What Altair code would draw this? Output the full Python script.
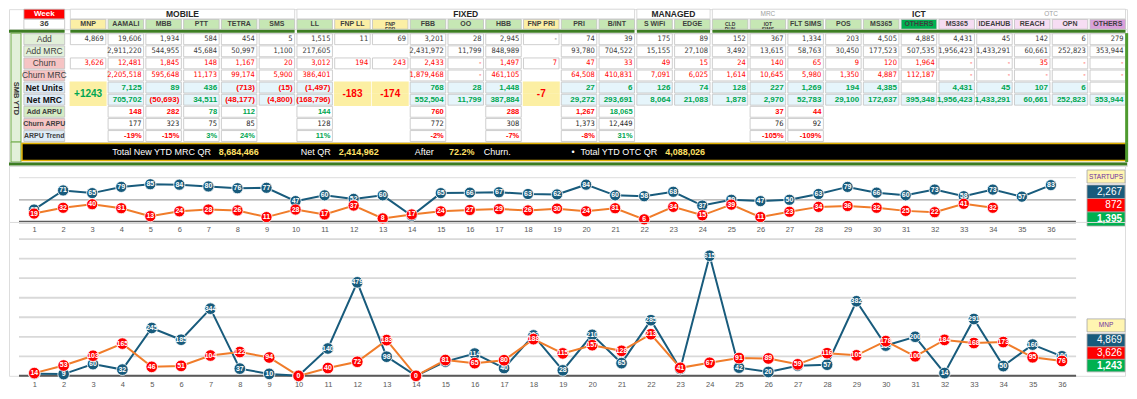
import altair as alt
import pandas as pd

# ------------------------------------------------------------------ data
columns = ["MNP", "AAMALI", "MBB", "PTT", "TETRA", "SMS", "LL", "FNP LL", "FNP\nFBB", "FBB", "OO", "HBB",
           "FNP PRI", "PRI", "B/INT", "S WiFi", "EDGE", "CLD\nPHN", "IOT\nSIMS", "FLT SIMS", "POS", "MS365",
           "OTHERS", "MS365", "IDEAHUB", "REACH", "OPN", "OTHERS"]
header_kind = ["fnp", "std", "std", "std", "std", "std", "std", "fnp", "fnp", "std", "std", "std",
               "fnp", "std", "std", "std", "std", "std", "std", "std", "std", "std",
               "ict_other", "otc", "otc", "otc", "otc", "otc_other"]
group_names = ["MOBILE", "FIXED", "MANAGED", "ICT"]
group_first = [0, 6, 15, 17]
group_last = [5, 14, 16, 27]
sub_names = ["MRC", "OTC"]
sub_first = [18, 25]
sub_last = [18, 26]
week_label = "Week"
week_no = "36"
side_label = "SMB YTD"

row_names = ["Add", "Add MRC", "Churn", "Churn MRC", "Net Units", "Net MRC", "Add ARPU", "Churn ARPU", "ARPU Trend"]

N = None
add = ["4,869", "19,606", "1,934", "584", "454", "5", "1,515", "11", "69", "3,201", "28", "2,945", "-", "74",
       "39", "175", "89", "152", "367", "1,334", "203", "4,505", "4,885", "4,431", "45", "142", "6", "279"]
add_mrc = [N, "2,911,220", "544,955", "45,684", "50,997", "1,100", "217,605", N, N, "2,431,972", "11,799",
           "848,989", N, "93,780", "704,522", "15,155", "27,108", "3,492", "13,615", "58,763", "30,450",
           "177,523", "507,535", "1,956,423", "1,433,291", "60,661", "252,823", "353,944"]
churn = ["3,626", "12,481", "1,845", "148", "1,167", "20", "3,012", "194", "243", "2,433", "-", "1,497", "7",
         "47", "33", "49", "15", "24", "140", "65", "9", "120", "1,964", "-", "-", "35", "-", "-"]
churn_mrc = [N, "2,205,518", "595,648", "11,173", "99,174", "5,900", "386,401", N, N, "1,879,468", "-",
             "461,105", N, "64,508", "410,831", "7,091", "6,025", "1,614", "10,645", "5,980", "1,350", "4,887",
             "112,187", "-", "-", "-", "-", "-"]
net_units = [N, "7,125", "89", "436", "(713)", "(15)", "(1,497)", N, N, "768", "28", "1,448", N, "27", "6",
             "126", "74", "128", "227", "1,269", "194", "4,385", "", "4,431", "45", "107", "6", ""]
net_mrc = [N, "705,702", "(50,693)", "34,511", "(48,177)", "(4,800)", "(168,796)", N, N, "552,504", "11,799",
           "387,884", N, "29,272", "293,691", "8,064", "21,083", "1,878", "2,970", "52,783", "29,100",
           "172,637", "395,348", "1,956,423", "1,433,291", "60,661", "252,823", "353,944"]
net_merged = ["+1243", N, N, N, N, N, N, "-183", "-174", N, N, N, "-7", N, N, N, N, N, N, N, N, N, N, N, N, N, N, N]
add_arpu = [N, "148", "282", "78", "112", N, "144", N, N, "760", N, "288", N, "1,267", "18,065", N, N, N,
            "37", "44", N, N, N, N, N, N, N, N]
churn_arpu = [N, "177", "323", "75", "85", N, "128", N, N, "772", N, "308", N, "1,373", "12,449", N, N, N,
              "76", "92", N, N, N, N, N, N, N, N]
arpu_trend = [N, "-19%", "-15%", "3%", "24%", N, "11%", N, N, "-2%", N, "-7%", N, "-8%", "31%", N, N, N,
              "-105%", "-109%", N, N, N, N, N, N, N, N]

total_texts = ["Total New YTD MRC QR", "8,684,466", "Net QR", "2,414,962", "After", "72.2%", "Churn.", "\u2022",
               "Total YTD OTC QR", "4,088,026"]
total_is_value = [False, True, False, True, False, True, False, False, False, True]
total_anchor = [1.14, 3.96, 6.13, 7.14, 9.15, 10.06, 10.98, 13.30, 13.54, 15.78]   # layout, column units

weeks = list(range(1, 37))
startups_add = [28, 71, 65, 79, 85, 84, 80, 76, 77, 47, 60, 52, 60, 14, 65, 66, 67, 63, 62, 84, 60, 58, 68, 37,
                50, 47, 50, 63, 79, 66, 60, 73, 58, 73, 57, 83]
startups_churn = [19, 32, 40, 31, 13, 24, 28, 26, 11, 28, 17, 37, 8, 17, 24, 27, 29, 26, 30, 24, 31, 6, 34, 15,
                  39, 11, 23, 34, 36, 32, 25, 22, 41, 32]
startups_totals = ["2,267", "872", "1,395"]
startups_grid = [50, 100]
mnp_add = [11, 9, 60, 32, 245, 185, 344, 37, 10, 0, 140, 479, 98, 0, 73, 114, 40, 207, 28, 210, 65, 285, 35,
           615, 42, 20, 52, 57, 382, 155, 200, 14, 291, 50, 160, 100]
mnp_churn = [14, 53, 103, 165, 46, 51, 104, 122, 94, 0, 40, 72, 183, 0, 81, 65, 80, 188, 115, 157, 128, 213, 41,
             67, 91, 89, 59, 116, 105, 178, 100, 184, 168, 173, 95, 76]
mnp_totals = ["4,869", "3,626", "1,243"]
mnp_grid = [100, 200, 300, 400, 500, 600, 700]

# ------------------------------------------------------------------ style / layout
FONT = "Liberation Sans"
NARROW = "Liberation Sans Narrow, DejaVu Sans Condensed, Liberation Sans"
GREEN = "#3C7D22"
FRAME_GREEN = "#4E9A2E"
BLUE = "#185B7C"
RED = "#FF0000"
ORANGE = "#F07C2A"
POS_GREEN = "#00A651"
FULL_W = 1119
COL_PX = 37.8
STRIP_PX = 13
XMIN = -1.25 - STRIP_PX / COL_PX
XMAX = XMIN + FULL_W / COL_PX
HEADER_H, GREEN_H, BODY_H, TOTAL_H, BOTTOM_H = 20, 4, 109, 20, 4
C1_H, C2_H, LINE_W = 56, 154, 1117
LABEL_L, LABEL_R, GAP = -1.2, -0.12, 0.03


def xscale():
    return alt.Scale(domain=[XMIN, XMAX], nice=False, zero=False)


def strip_layers(h):
    return [alt.Chart(pd.DataFrame({"v": [0]})).mark_rect(fill="#E2F0D9", stroke="#70AD47", strokeWidth=1).encode(
        x=alt.value(2), x2=alt.value(12), y=alt.value(0), y2=alt.value(h))]


X0 = alt.X("x0:Q", scale=xscale(), axis=None)
XC = alt.X("xc:Q", scale=xscale(), axis=None)

# ------------------------------------------------------------------ header
hdr_fill = {"std": "#C6E7B4", "fnp": "#FBEFA5", "ict_other": "#00B050", "otc": "#F6DDF3", "otc_other": "#DAA0DB"}
yh = alt.Scale(domain=["group", "head"], paddingInner=0.05, paddingOuter=0)
head_df = pd.DataFrame({
    "name": columns,
    "x0": [i + GAP for i in range(len(columns))],
    "x1": [i + 1 - GAP for i in range(len(columns))],
    "xc": [i + 0.5 for i in range(len(columns))],
    "fill": [hdr_fill[k] for k in header_kind],
    "row": "head",
    "two": ["\n" in c for c in columns],
})
grp_df = pd.DataFrame({
    "name": group_names,
    "x0": [f + GAP for f in group_first],
    "x1": [l + 1 - GAP for l in group_last],
    "xc": [(f + l + 1) / 2 for f, l in zip(group_first, group_last)],
    "row": "group",
})
sub_df = pd.DataFrame({"name": sub_names, "xc": [(f + l + 1) / 2 for f, l in zip(sub_first, sub_last)],
                       "row": "group"})
week_df = pd.DataFrame({"name": [week_label, week_no], "row": ["group", "head"],
                        "x0": [LABEL_L, LABEL_L], "x1": [LABEL_R, LABEL_R],
                        "xc": [(LABEL_L + LABEL_R) / 2] * 2,
                        "fill": [RED, "#FFFFFF"], "tc": ["#FFFFFF", "#404040"]})
YH = alt.Y("row:N", scale=yh, axis=None)

header = alt.layer(
    alt.Chart(grp_df).mark_rect(fill="#FFFFFF", stroke="#D0D0D0", strokeWidth=0.8).encode(x=X0, x2="x1", y=YH),
    alt.Chart(grp_df).mark_text(font=FONT, fontSize=8.5, fontWeight="bold", color="#262626").encode(
        x=XC, y=YH, text="name:N"),
    alt.Chart(sub_df).mark_text(font=FONT, fontSize=6.5, color="#A0A0A0").encode(x=XC, y=YH, text="name:N"),
    alt.Chart(head_df).mark_rect(stroke="#BFBFBF", strokeWidth=0.8).encode(
        x=X0, x2="x1", y=YH, fill=alt.Fill("fill:N", scale=None)),
    alt.Chart(head_df[~head_df["two"]]).mark_text(font=FONT, fontSize=7, fontWeight="bold", color="#3F3F3F").encode(
        x=XC, y=YH, text="name:N"),
    alt.Chart(head_df[head_df["two"]]).mark_text(font=FONT, fontSize=5, lineHeight=4.8, fontWeight="bold",
                                                 color="#3F3F3F", lineBreak="\n").encode(
        x=XC, y=YH, text="name:N"),
    alt.Chart(week_df).mark_rect(stroke="#BFBFBF", strokeWidth=0.8).encode(
        x=X0, x2="x1", y=YH, fill=alt.Fill("fill:N", scale=None)),
    alt.Chart(week_df).mark_text(font=FONT, fontSize=8, fontWeight="bold").encode(
        x=XC, y=YH, text="name:N", color=alt.Color("tc:N", scale=None)),
).properties(width=FULL_W, height=HEADER_H)

# ------------------------------------------------------------------ green separator
seg_df = pd.DataFrame({"x0": [XMIN] + [f + GAP for f in group_first],
                       "x1": [LABEL_R] + [l + 1 - GAP for l in group_last]})
green_line = alt.Chart(seg_df).mark_rect(fill=GREEN).encode(
    x=X0, x2="x1", y=alt.value(0.5), y2=alt.value(3.5)).properties(width=FULL_W, height=GREEN_H)

# ------------------------------------------------------------------ body
row_fill = {"Add": "#E2F0D9", "Add MRC": "#E2F0D9", "Churn": "#F6C4C4", "Churn MRC": "#F6C4C4",
            "Net Units": "#DDEBF7", "Net MRC": "#DDEBF7", "Add ARPU": "#D3EBC3", "Churn ARPU": "#F6C4C4",
            "ARPU Trend": "#DDEBF7"}
series = [add, add_mrc, churn, churn_mrc, net_units, net_mrc, add_arpu, churn_arpu, arpu_trend]
recs = []
for r, vals in zip(row_names, series):
    for i, v in enumerate(vals):
        if v is None:
            continue
        if r in ("Add", "Add MRC"):
            color, weight = "#3A3A3A", "normal"
        elif r in ("Churn", "Churn MRC"):
            color, weight = RED, "normal"
        elif r in ("Net Units", "Net MRC"):
            color, weight = (RED if v.startswith("(") else POS_GREEN), "net"
        elif r == "Add ARPU":
            color, weight = (RED if arpu_trend[i].startswith("-") else POS_GREEN), "bold"
        elif r == "Churn ARPU":
            color, weight = "#262626", "normal"
        else:
            color, weight = (RED if v.startswith("-") else POS_GREEN), "bold"
        fill = "#E6F5FB" if (r in ("Net Units", "Net MRC") and v != "") else "#FFFFFF"
        recs.append(dict(row=r, val=v, x0=i + GAP, x1=i + 1 - GAP, xr=i + 1 - GAP, color=color,
                         weight=weight, fill=fill))
cells_df = pd.DataFrame(recs)
merged_df = pd.DataFrame([dict(row=r, x0=i + GAP, x1=i + 1 - GAP, xc=i + 0.5, val=v,
                               color=(POS_GREEN if v.startswith("+") else RED))
                          for i, v in enumerate(net_merged) if v is not None for r in ("Net Units", "Net MRC")])
merged_txt = merged_df[merged_df["row"] == "Net Units"]
labels_df = pd.DataFrame({"row": row_names, "x0": LABEL_L, "x1": LABEL_R, "xc": (LABEL_L + LABEL_R) / 2,
                          "fill": [row_fill[r] for r in row_names]})

YB = alt.Y("row:N", scale=alt.Scale(domain=row_names, paddingInner=0.1, paddingOuter=0.05), axis=None)


def body_text(df, **kw):
    return alt.Chart(df).mark_text(align="right", dx=-2, **kw).encode(
        x=alt.X("xr:Q", scale=xscale(), axis=None), y=YB, text="val:N", color=alt.Color("color:N", scale=None))


txt = cells_df[cells_df["val"] != ""]
lab_big = labels_df[labels_df["row"].isin(["Add", "Add MRC", "Churn", "Churn MRC"])]
lab_net = labels_df[labels_df["row"].isin(["Net Units", "Net MRC"])]
lab_small = labels_df[labels_df["row"].isin(["Add ARPU", "Churn ARPU", "ARPU Trend"])]
frame_df = pd.DataFrame({"x": [28]})
frame_rule = alt.Chart(frame_df).mark_rule(color=FRAME_GREEN, strokeWidth=3).encode(
    x=alt.X("x:Q", scale=xscale(), axis=None))

body = alt.layer(
    *strip_layers(BODY_H),
    alt.Chart(pd.DataFrame({"t": [side_label]})).mark_text(
        font=FONT, fontSize=7.5, fontWeight="bold", angle=90, color="#333333").encode(
        x=alt.value(7), y=alt.value(BODY_H * 0.6), text="t:N"),
    alt.Chart(cells_df).mark_rect(stroke="#C3C3C3", strokeWidth=0.8).encode(
        x=X0, x2="x1", y=YB, fill=alt.Fill("fill:N", scale=None)),
    alt.Chart(merged_df).mark_rect(fill="#FCEFA3", stroke="#FCEFA3", strokeWidth=1.5).encode(x=X0, x2="x1", y=YB),
    body_text(txt[txt["weight"] == "normal"], font=NARROW, fontSize=7.5),
    body_text(txt[txt["weight"] == "net"], font=FONT, fontSize=8, fontWeight="bold"),
    body_text(txt[txt["weight"] == "bold"], font=FONT, fontSize=7.5, fontWeight="bold"),
    alt.Chart(merged_txt).mark_text(font=FONT, fontSize=10, fontWeight="bold", dy=6).encode(
        x=XC, y=YB, text="val:N", color=alt.Color("color:N", scale=None)),
    alt.Chart(labels_df).mark_rect(stroke="#BFBFBF", strokeWidth=0.8).encode(
        x=X0, x2="x1", y=YB, fill=alt.Fill("fill:N", scale=None)),
    alt.Chart(lab_big).mark_text(font=FONT, fontSize=8.5, color="#404040").encode(x=XC, y=YB, text="row:N"),
    alt.Chart(lab_net).mark_text(font=FONT, fontSize=8.5, fontWeight="bold", color="#111111").encode(
        x=XC, y=YB, text="row:N"),
    alt.Chart(lab_small).mark_text(font=FONT, fontSize=7, fontWeight="bold", color="#404040").encode(
        x=XC, y=YB, text="row:N"),
    frame_rule,
).properties(width=FULL_W, height=BODY_H)

# ------------------------------------------------------------------ total bar
tot_df = pd.DataFrame({"t": total_texts, "x": total_anchor, "isv": total_is_value})
bar_df = pd.DataFrame({"x0": [-1.25], "x1": [28]})
XT = alt.X("x:Q", scale=xscale(), axis=None)
total = alt.layer(
    *strip_layers(TOTAL_H),
    alt.Chart(bar_df).mark_rect(fill="#000000", stroke="#E0B000", strokeWidth=1.5).encode(
        x=X0, x2="x1", y=alt.value(1.5), y2=alt.value(18.5)),
    alt.Chart(tot_df[~tot_df["isv"]]).mark_text(font=FONT, fontSize=9, color="#FFFFFF", align="left").encode(
        x=XT, y=alt.value(10), text="t:N"),
    alt.Chart(tot_df[tot_df["isv"]]).mark_text(font=FONT, fontSize=9, fontWeight="bold", color="#FFE066",
                                               align="left").encode(x=XT, y=alt.value(10), text="t:N"),
    frame_rule,
).properties(width=FULL_W, height=TOTAL_H)

bottom_green = alt.Chart(pd.DataFrame({"x0": [XMIN], "x1": [XMAX]})).mark_rect(fill=GREEN).encode(
    x=X0, x2="x1", y=alt.value(0.5), y2=alt.value(3.5)).properties(width=FULL_W, height=BOTTOM_H)


# ------------------------------------------------------------------ line panels
def line_row(adds, churns, dom_x, grid_x, dom_y, grid_vals, grid_color, grid_w, base_w, height, size, pad,
             legend_label, totals, leg_y):
    a_df = pd.DataFrame({"week": weeks[:len(adds)], "value": adds})
    c_df = pd.DataFrame({"week": weeks[:len(churns)], "value": churns})
    xs = alt.Scale(domain=dom_x, nice=False, zero=False)
    ys = alt.Scale(domain=dom_y, nice=False, zero=False)
    ax = alt.Axis(values=weeks, format="d", title=None, ticks=False, grid=False, domain=False, labelFont=FONT,
                  labelFontSize=7.5, labelColor="#595959", labelPadding=pad, labelFlush=False, labelOverlap=False)
    X = alt.X("week:Q", scale=xs, axis=ax)
    Y = alt.Y("value:Q", scale=ys, axis=None)
    # gridlines as two-point line segments
    g_rows = []
    for v, c in zip(grid_vals, grid_color):
        for gx in grid_x:
            g_rows.append({"week": gx, "value": v, "gid": f"g{v}", "c": c})
    grid_long = pd.DataFrame(g_rows)
    base_df = pd.DataFrame({"value": [0], "gx0": [grid_x[0]], "gx1": [grid_x[1]]})
    layers = [
        alt.Chart(grid_long).mark_line(strokeWidth=grid_w).encode(
            x=X, y=Y, detail="gid:N", color=alt.Color("c:N", scale=None)),
        alt.Chart(base_df).mark_rule(color="#595959", strokeWidth=base_w).encode(
            x=alt.X("gx0:Q", scale=xs, axis=ax), x2=alt.X2("gx1"), y=Y),
    ]
    for df, lc, pc in ((a_df, BLUE, BLUE), (c_df, ORANGE, RED)):
        layers += [
            alt.Chart(df).mark_line(color=lc, strokeWidth=2).encode(x=X, y=Y),
            alt.Chart(df).mark_circle(size=size, color=pc, opacity=1, stroke="#FFFFFF", strokeWidth=0.8).encode(
                x=X, y=Y),
            alt.Chart(df).mark_text(font=FONT, fontSize=7, fontWeight="bold", color="#FFFFFF").encode(
                x=X, y=Y, text=alt.Text("value:Q", format="d")),
        ]
    # legend boxes at the right
    fills = ["#FFF5B1", BLUE, RED, "#00B050"]
    texts = [legend_label] + totals
    for k in range(4):
        y0, y1 = leg_y[k], leg_y[k + 1]
        if k == 0:
            y1 -= 2
        one = pd.DataFrame({"t": [texts[k]]})
        layers.append(alt.Chart(one).mark_rect(fill=fills[k], stroke="#A6A6A6", strokeWidth=0.8).encode(
            x=alt.value(1079), x2=alt.value(1117), y=alt.value(y0), y2=alt.value(y1)))
        if k == 0:
            layers.append(alt.Chart(one).mark_text(font=FONT, fontSize=6.5, color="#7030A0").encode(
                x=alt.value(1098), y=alt.value((y0 + y1) / 2), text="t:N"))
        else:
            layers.append(alt.Chart(one).mark_text(font=FONT, fontSize=10, color="#FFFFFF", align="right",
                                                   fontWeight=("bold" if k == 3 else "normal")).encode(
                x=alt.value(1114), y=alt.value((y0 + y1) / 2), text="t:N"))
    return alt.layer(*layers).properties(width=LINE_W, height=height)


row1 = line_row(startups_add, startups_churn, [0.137, 38.55], [0.481, 36.86], [0, 126], startups_grid,
                ["#A6A6A6", "#E3E3E3"], 1.2, 2.5, C1_H, 125, 4, "STARTUPS", startups_totals, [4, 19, 32.5, 46, 60])
row2 = line_row(mnp_add, mnp_churn, [0.139, 38.146], [0.479, 36.48], [0, 788], mnp_grid,
                ["#D9D9D9"] * 7, 1.8, 2, C2_H, 135, 5, "MNP", mnp_totals, [97, 112, 125, 137.5, 150])

chart = alt.vconcat(
    header, green_line, body, total, bottom_green, row1, row2,
    spacing=0, bounds="flush",
).properties(padding=0).configure_view(stroke=None).configure(font=FONT)

chart.save("out.html", embed_options={"renderer": "svg", "actions": False})
